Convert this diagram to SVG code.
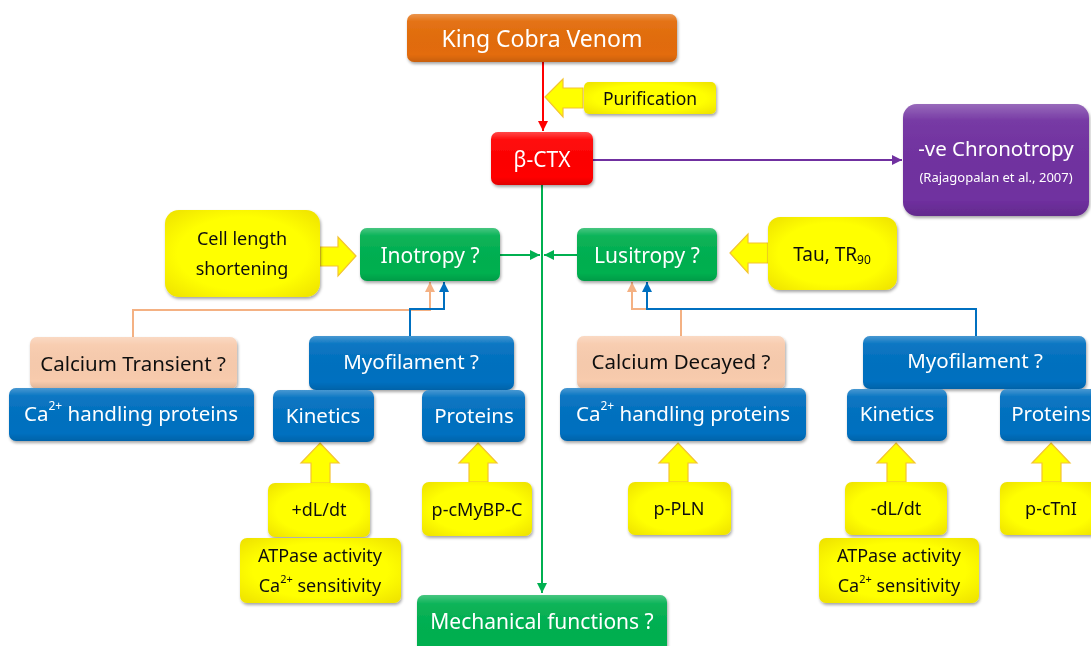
<svg xmlns="http://www.w3.org/2000/svg" width="1091" height="646" viewBox="0 0 1091 646">
<style>
text{font-family:"Noto Sans","Open Sans","DejaVu Sans",sans-serif;text-anchor:middle;dominant-baseline:central}
.w{fill:#fff}.k{fill:#111}
.t19{font-size:21px}.t18{font-size:20.5px}.t17{font-size:18px}
.box{filter:url(#sh)}
.hl{fill:url(#gloss)}
.yarrow{fill:#FFFF00;stroke:#F4C430;stroke-width:1.2}
.ln{fill:none;stroke-width:2}
</style>
<defs>
<filter id="sh" x="-10%" y="-10%" width="120%" height="130%">
<feDropShadow dx="1" dy="2" stdDeviation="1.5" flood-color="#000" flood-opacity="0.35"/>
</filter>
<linearGradient id="gloss" x1="0" y1="0" x2="0" y2="1">
<stop offset="0" stop-color="#fff" stop-opacity="0.28"/>
<stop offset="0.15" stop-color="#fff" stop-opacity="0.05"/>
<stop offset="0.85" stop-color="#000" stop-opacity="0"/>
<stop offset="1" stop-color="#000" stop-opacity="0.12"/>
</linearGradient>
<radialGradient id="yel" cx="0.5" cy="0.5" r="0.7">
<stop offset="0.6" stop-color="#FFFF00"/>
<stop offset="1" stop-color="#EDE000"/>
</radialGradient>
<marker id="mr" viewBox="0 0 10 10" refX="10" refY="5" markerWidth="5" markerHeight="5" orient="auto"><path d="M0,0L10,5L0,10z" fill="#FF0000"/></marker>
<marker id="mp" viewBox="0 0 10 10" refX="10" refY="5" markerWidth="5" markerHeight="5" orient="auto"><path d="M0,0L10,5L0,10z" fill="#7030A0"/></marker>
<marker id="mg" viewBox="0 0 10 10" refX="10" refY="5" markerWidth="5" markerHeight="5" orient="auto"><path d="M0,0L10,5L0,10z" fill="#00B050"/></marker>
<marker id="mo" viewBox="0 0 10 10" refX="10" refY="5" markerWidth="5" markerHeight="5" orient="auto"><path d="M0,0L10,5L0,10z" fill="#F4B183"/></marker>
<marker id="mb" viewBox="0 0 10 10" refX="10" refY="5" markerWidth="5" markerHeight="5" orient="auto"><path d="M0,0L10,5L0,10z" fill="#0070C0"/></marker>
</defs>
<rect width="1091" height="646" fill="#fff"/>

<g id="connectors">
<path class="ln" d="M543,62V131" stroke="#FF0000" marker-end="url(#mr)"/>
<path class="ln" d="M593,160H902" stroke="#7030A0" marker-end="url(#mp)"/>
<path class="ln" d="M542,185V593" stroke="#00B050" marker-end="url(#mg)"/>
<path class="ln" d="M500,255H540" stroke="#00B050" marker-end="url(#mg)"/>
<path class="ln" d="M577,255H544" stroke="#00B050" marker-end="url(#mg)"/>
<path class="ln" d="M133,337V310H430V282" stroke="#F4B183" marker-end="url(#mo)"/>
<path class="ln" d="M410,336V309H444V282" stroke="#0070C0" marker-end="url(#mb)"/>
<path class="ln" d="M681,336V309H632V282" stroke="#F4B183" marker-end="url(#mo)"/>
<path class="ln" d="M976,336V309H647V282" stroke="#0070C0" marker-end="url(#mb)"/>
<path class="yarrow" d="M545,97L563,79V88H583V108H563V117Z"/>
<path class="yarrow" d="M356,256L338,237V247H320V266H338V276Z"/>
<path class="yarrow" d="M730,253L748,234V243H768V263H748V273Z"/>
<path class="yarrow" d="M320,443L339,463H330V483H311V463H301Z"/>
<path class="yarrow" d="M478,443L497,463H488V482H469V463H459Z"/>
<path class="yarrow" d="M678,443L697,463H688V482H669V463H659Z"/>
<path class="yarrow" d="M896,443L915,463H906V482H887V463H877Z"/>
<path class="yarrow" d="M1051,443L1070,463H1061V482H1042V463H1032Z"/>
</g>

<g id="n-venom" class="box"><rect x="407" y="14" width="270" height="48" rx="7" fill="#E36C0A"/><rect x="407" y="14" width="270" height="48" rx="7" class="hl"/><text x="542" y="38" class="w" font-size="23">King Cobra Venom</text></g>
<g id="n-purification" class="box"><rect x="584" y="82" width="132" height="32" rx="5" fill="url(#yel)"/><text x="650" y="98" class="k" font-size="17.5">Purification</text></g>
<g id="n-bctx" class="box"><rect x="491" y="132" width="102" height="53" rx="7" fill="#FF0000"/><rect x="491" y="132" width="102" height="53" rx="7" class="hl"/><text x="542" y="159" class="w t19">β-CTX</text></g>
<g id="n-chrono" class="box"><rect x="903" y="104" width="186" height="112" rx="14" fill="#7030A0"/><rect x="903" y="104" width="186" height="112" rx="14" class="hl"/><text x="996" y="148" class="w t18">-ve Chronotropy</text><text x="996" y="177" class="w" font-size="13">(Rajagopalan et al., 2007)</text></g>
<g id="n-cell" class="box"><rect x="165" y="210" width="155" height="87" rx="14" fill="url(#yel)"/><text x="242" y="238" class="k t17">Cell length</text><text x="242" y="268" class="k t17">shortening</text></g>
<g id="n-ino" class="box"><rect x="360" y="228" width="140" height="53" rx="7" fill="#00B050"/><rect x="360" y="228" width="140" height="53" rx="7" class="hl"/><text x="430" y="255" class="w t19">Inotropy ?</text></g>
<g id="n-lusi" class="box"><rect x="577" y="228" width="140" height="53" rx="7" fill="#00B050"/><rect x="577" y="228" width="140" height="53" rx="7" class="hl"/><text x="647" y="255" class="w t19">Lusitropy ?</text></g>
<g id="n-tau" class="box"><rect x="768" y="217" width="129" height="73" rx="12" fill="url(#yel)"/><text x="832" y="254" class="k" font-size="19">Tau, TR<tspan font-size="12" dy="5">90</tspan></text></g>

<g id="n-catrans" class="box"><rect x="30" y="337" width="207" height="52" rx="7" fill="#F8CBAD"/><rect x="30" y="337" width="207" height="52" rx="7" class="hl"/><text x="133" y="363" class="k t18">Calcium Transient ?</text></g>
<g id="n-cahp1" class="box"><rect x="9" y="388" width="245" height="53" rx="7" fill="#0070C0"/><rect x="9" y="388" width="245" height="53" rx="7" class="hl"/><text x="131" y="413" class="w t18">Ca<tspan font-size="12" dy="-8">2+</tspan><tspan dy="8"> handling proteins</tspan></text></g>
<g id="n-myo1" class="box"><rect x="309" y="336" width="205" height="54" rx="7" fill="#0070C0"/><rect x="309" y="336" width="205" height="54" rx="7" class="hl"/><text x="411" y="361" class="w t18">Myofilament ?</text></g>
<g id="n-kin1" class="box"><rect x="273" y="390" width="101" height="52" rx="7" fill="#0070C0"/><rect x="273" y="390" width="101" height="52" rx="7" class="hl"/><text x="323" y="415" class="w t18">Kinetics</text></g>
<g id="n-prot1" class="box"><rect x="422" y="390" width="103" height="52" rx="7" fill="#0070C0"/><rect x="422" y="390" width="103" height="52" rx="7" class="hl"/><text x="474" y="415" class="w t18">Proteins</text></g>

<g id="n-cadec" class="box"><rect x="577" y="336" width="208" height="53" rx="7" fill="#F8CBAD"/><rect x="577" y="336" width="208" height="53" rx="7" class="hl"/><text x="681" y="361" class="k t18">Calcium Decayed ?</text></g>
<g id="n-cahp2" class="box"><rect x="560" y="388" width="246" height="53" rx="7" fill="#0070C0"/><rect x="560" y="388" width="246" height="53" rx="7" class="hl"/><text x="683" y="413" class="w t18">Ca<tspan font-size="12" dy="-8">2+</tspan><tspan dy="8"> handling proteins</tspan></text></g>
<g id="n-myo2" class="box"><rect x="863" y="336" width="223" height="53" rx="7" fill="#0070C0"/><rect x="863" y="336" width="223" height="53" rx="7" class="hl"/><text x="975" y="360" class="w t18">Myofilament ?</text></g>
<g id="n-kin2" class="box"><rect x="847" y="389" width="100" height="52" rx="7" fill="#0070C0"/><rect x="847" y="389" width="100" height="52" rx="7" class="hl"/><text x="897" y="413" class="w t18">Kinetics</text></g>
<g id="n-prot2" class="box"><rect x="1000" y="389" width="100" height="52" rx="7" fill="#0070C0"/><rect x="1000" y="389" width="100" height="52" rx="7" class="hl"/><text x="1051" y="413" class="w t18">Proteins</text></g>

<g id="n-dldt1" class="box"><rect x="268" y="483" width="102" height="54" rx="7" fill="url(#yel)"/><text x="319" y="509" class="k t17">+dL/dt</text></g>
<g id="n-atp1" class="box"><rect x="240" y="538" width="161" height="65" rx="7" fill="url(#yel)"/><text x="320" y="555" class="k t17">ATPase activity</text><text x="320" y="585" class="k t17">Ca<tspan font-size="11" dy="-7">2+</tspan><tspan dy="7"> sensitivity</tspan></text></g>
<g id="n-pmybp" class="box"><rect x="422" y="482" width="110" height="54" rx="7" fill="url(#yel)"/><text x="477" y="509" class="k t17">p-cMyBP-C</text></g>
<g id="n-ppln" class="box"><rect x="628" y="482" width="103" height="53" rx="7" fill="url(#yel)"/><text x="679" y="508" class="k t17">p-PLN</text></g>
<g id="n-dldt2" class="box"><rect x="845" y="482" width="102" height="53" rx="7" fill="url(#yel)"/><text x="896" y="508" class="k t17">-dL/dt</text></g>
<g id="n-atp2" class="box"><rect x="819" y="538" width="160" height="65" rx="7" fill="url(#yel)"/><text x="899" y="555" class="k t17">ATPase activity</text><text x="899" y="585" class="k t17">Ca<tspan font-size="11" dy="-7">2+</tspan><tspan dy="7"> sensitivity</tspan></text></g>
<g id="n-pctni" class="box"><rect x="1000" y="482" width="100" height="53" rx="7" fill="url(#yel)"/><text x="1051" y="508" class="k t17">p-cTnI</text></g>

<g id="n-mech" class="box"><rect x="417" y="595" width="250" height="60" rx="7" fill="#00B050"/><rect x="417" y="595" width="250" height="60" rx="7" class="hl"/><text x="542" y="621" class="w t19">Mechanical functions ?</text></g>
</svg>
